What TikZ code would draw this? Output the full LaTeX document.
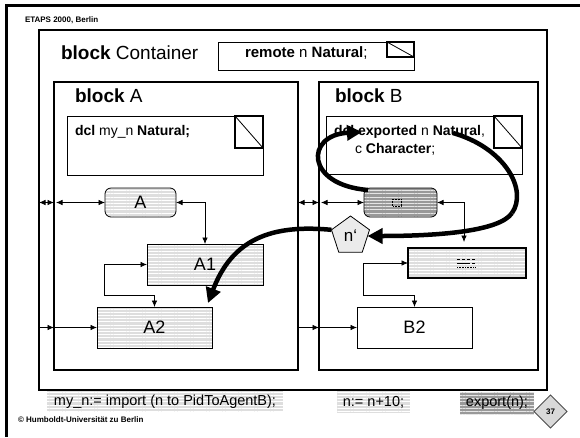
\documentclass[tikz,border=0pt]{standalone}
\usepackage{fontspec}
\setmainfont{Liberation Sans}
\usetikzlibrary{arrows.meta,patterns.meta,shapes.geometric}

\tikzset{
  every node/.style={inner sep=0pt, outer sep=0pt},
  linebox/.style={draw, line width=0.8pt},
  blk/.style={draw, line width=1.1pt},
  stripes/.style={preaction={fill=black!13},
    pattern={Lines[angle=0,distance=3.2pt,line width=0.9pt]}, pattern color=white},
  darkstripes/.style={preaction={fill=black!40},
    pattern={Lines[angle=0,distance=3.2pt,line width=1pt]}, pattern color=black!10},
  marker/.style={draw, line width=1.4pt, fill=white},
  markline/.style={line width=0.8pt},
  title/.style={font=\fontsize{19}{22}\selectfont},
  decl/.style={font=\fontsize{14}{17}\selectfont},
  lbl/.style={font=\fontsize{18}{20}\selectfont},
  foot/.style={font=\fontsize{14.5}{17}\selectfont},
  small/.style={font=\fontsize{8}{9}\selectfont\bfseries},
  tip/.tip={Latex[length=6.5pt,width=5.5pt]},
  ch/.style={line width=0.7pt, tip-tip},
  arr/.style={line width=0.7pt, -tip},
  bigarrow/.style={line width=4.5pt, -{Triangle[length=15pt,width=15pt]}},
  glyph/.style={line width=0.6pt},
}

\begin{document}
\begin{tikzpicture}[x=1pt,y=-1pt]
\useasboundingbox (0,0) rectangle (580,437);

% slide frame
\draw[line width=2.5pt] (580,5.5) -- (6.5,5.5) -- (6.5,437);
\node[small, anchor=base west] (conf) at (25,22) {ETAPS 2000, Berlin};
\node[small, anchor=base west] (copy) at (18,422) {© Humboldt-Universität zu Berlin};

% outer block
\node[blk, minimum width=508pt, minimum height=360pt] (cont) at (293,210) {};
\node[title, anchor=base west] (contlbl) at (61,59) {\textbf{block} Container};

\node[linebox, fill=white, minimum width=196pt, minimum height=28pt] (remote) at (316,56) {};
\node[font=\fontsize{15}{17}\selectfont, anchor=base west] (remotetxt) at (245,57.5) {\textbf{remote} n \textbf{Natural};};
\node[marker, minimum width=27pt, minimum height=15pt, anchor=north east] (rmark) at (remote.north east) {};
\draw[markline] (rmark.north west) -- (rmark.south east);

% block A
\node[blk, minimum width=244pt, minimum height=288pt] (blockA) at (176,226) {};
\node[title, anchor=base west] (blockAlbl) at (75,102) {\textbf{block} A};
\node[linebox, minimum width=196pt, minimum height=59pt] (dclA) at (165,145.5) {};
\node[decl, anchor=base west] (dclAtxt) at (75,135) {\textbf{dcl} my\_n \textbf{Natural;}};
\node[marker, minimum width=28pt, minimum height=32pt, anchor=north east] (mA) at (dclA.north east) {};
\draw[markline] (mA.north west) -- (mA.south east);

\node[linebox, stripes, rounded corners=6pt, minimum width=71pt, minimum height=29pt, lbl] (boxA) at (140.5,202.5) {A};
\node[linebox, stripes, minimum width=116pt, minimum height=41pt, lbl] (A1) at (205,264.5) {A1};
\node[linebox, stripes, minimum width=115pt, minimum height=41pt, lbl] (A2) at (154.5,327.5) {A2};

% block B
\node[blk, minimum width=219pt, minimum height=288pt] (blockB) at (428.5,226) {};
\node[title, anchor=base west] (blockBlbl) at (335,102) {\textbf{block} B};
\node[linebox, minimum width=196pt, minimum height=58pt] (dclB) at (424,145) {};
\node[decl, anchor=base west] (dclBtxt1) at (334,135) {\textbf{dcl exported} n \textbf{Natural},};
\node[decl, anchor=base west] (dclBtxt2) at (355,153) {c \textbf{Character};};
\node[marker, minimum width=28pt, minimum height=32pt, anchor=north east] (mB) at (dclB.north east) {};
\draw[markline] (mB.north west) -- (mB.south east);

\node[linebox, darkstripes, rounded corners=6pt, minimum width=73pt, minimum height=29pt] (B1) at (400.5,202.5) {};
\draw[glyph, densely dotted] (392,199) rectangle (401,206);
\node[draw, line width=1.2pt, stripes, minimum width=118pt, minimum height=30pt] (Bp) at (467,263) {};
\draw[glyph, densely dashed] (457,259) -- (475,259);
\draw[glyph] (457,263) -- (467,263);
\draw[glyph, densely dashed] (467,263) -- (475,263);
\draw[glyph, densely dotted] (457,267) -- (475,267);
\node[linebox, fill=white, minimum width=115pt, minimum height=41pt, lbl] (B2) at (414.5,327.5) {B2};

\node[regular polygon, regular polygon sides=5, minimum size=40pt, draw, line width=0.8pt,
      fill=black!8, font=\fontsize{17}{19}\selectfont] (pent) at (350.5,236) {n‘};

% channels in block A
\draw[ch] (cont.west |- boxA.west) -- (blockA.west |- boxA.west);
\draw[ch] ([xshift=2pt]blockA.west |- boxA.west) -- (boxA.west);
\draw[ch] (boxA.east) -| (A1.north);
\draw[ch] (A1.west) -- ++(-43,0) -- ++(0,31) -| (A2.north);
\draw[arr] (cont.west |- A2.west) -- (blockA.west |- A2.west);
\draw[arr] (blockA.west |- A2.west) -- (A2.west);

% channels in block B
\draw[ch] (blockA.east |- B1.west) -- (blockB.west |- B1.west);
\draw[ch] ([xshift=2pt]blockB.west |- B1.west) -- (B1.west);
\draw[ch, shorten >=6pt] (B1.east) -| ([xshift=-3pt]Bp.north);
\draw[ch] (Bp.west) -- ++(-45,0) -- ++(0,32) -| (B2.north);
\draw[arr] (blockA.east |- B2.west) -- (blockB.west |- B2.west);
\draw[arr] (blockB.west |- B2.west) -- (B2.west);

% value flow
\coordinate (natural) at (453,133);
\coordinate (exported) at (362,132);
\draw[bigarrow] ([xshift=4pt,yshift=-2pt]B1.north west) .. controls (305,185) and (305,135) .. (exported);
\draw[line width=4.5pt] (natural) .. controls (505,148) and (528,190) .. (512,213);
\draw[bigarrow] (512,213) .. controls (500,231) and (440,236) .. (pent.east);
\draw[bigarrow] (pent.corner 2) .. controls (270,224) and (232,240) .. ([xshift=-4pt,yshift=4pt]A2.north east);

% statements
\node[stripes, minimum width=236pt, minimum height=21pt, foot] (imp) at (165,401.5) {my\_n:= import (n to PidToAgentB);};
\node[stripes, minimum width=73pt, minimum height=22pt, foot] (inc) at (373.5,402) {n:= n+10;};
\node[darkstripes, minimum width=74pt, minimum height=22pt, foot] (exp) at (497,403) {export(n);};
\node[diamond, aspect=1, minimum width=33pt, minimum height=33pt, draw=black!70, line width=0.8pt,
      fill=black!15, font=\fontsize{8}{9}\selectfont\bfseries] (page) at (550.5,411.5) {37};
\end{tikzpicture}
\end{document}
